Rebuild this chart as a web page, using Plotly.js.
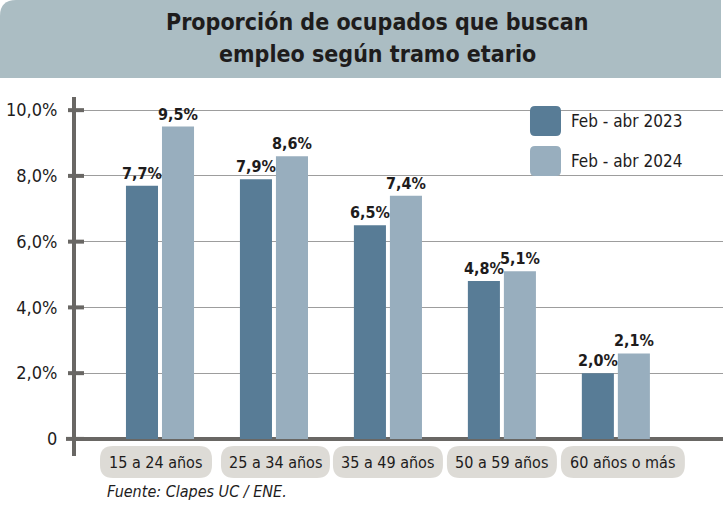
<!DOCTYPE html>
<html>
<head>
<meta charset="utf-8">
<script src="https://cdn.plot.ly/plotly-3.0.1.min.js"></script>
<style>
  html, body { margin: 0; padding: 0; background: #ffffff; }
  #chart { width: 723px; height: 505px; }
</style>
</head>
<body>
<div id="chart"></div>
<script>
// ---- data ----
const categories = ["15 a 24 años", "25 a 34 años", "35 a 49 años", "50 a 59 años", "60 años o más"];
const seriesNames = ["Feb - abr 2023", "Feb - abr 2024"];
const values2023 = [7.7, 7.9, 6.5, 4.8, 2.0];
const values2024 = [9.5, 8.6, 7.4, 5.1, 2.6];
const labels2023 = ["7,7%", "7,9%", "6,5%", "4,8%", "2,0%"];
const labels2024 = ["9,5%", "8,6%", "7,4%", "5,1%", "2,1%"];
const yTickVals = [0, 2, 4, 6, 8, 10];
const yTickText = ["0", "2,0%", "4,0%", "6,0%", "8,0%", "10,0%"];
const titleLines = ["Proporción de ocupados que buscan", "empleo según tramo etario"];
const sourceText = "Fuente: Clapes UC / ENE.";

// ---- style / layout constants ----
const W = 723, H = 505;
const M = { l: 76, r: 0, t: 97, b: 49 };
const PW = W - M.l - M.r, PH = H - M.t - M.b;
const XR = [-0.737, 4.94];
const YR = [-0.52, 10.4];
const C_DARK = "#587c96", C_LIGHT = "#98aebe";
const C_AXIS = "#696764", C_GRID = "#9d9d9d";
const C_BAND = "#abbdc3", C_PILL = "#dddbd6", C_TEXT = "#1e1c1c";
const FONT = "'DejaVu Sans Condensed', 'Open Sans', sans-serif";
const pillWidths = [112, 109, 110, 110, 124];
const pillShift = [-4, 1.5, 0, 0, 7];

// pixel helpers (paper coordinates)
const px = x => (x - M.l) / PW;
const py = y => (M.t + PH - y) / PH;
const idxToPx = i => M.l + (i - XR[0]) / (XR[1] - XR[0]) * PW;
const valToPy = v => M.t + PH - (v - YR[0]) / (YR[1] - YR[0]) * PH;

function roundRect(x0, y0, x1, y1, r, corners) {
  const c = corners || [true, true, true, true];
  const rt = c[0] ? r : 0, rr = c[1] ? r : 0, rb = c[2] ? r : 0, rl = c[3] ? r : 0;
  const P = (x, y) => px(x).toFixed(5) + "," + py(y).toFixed(5);
  return "M" + P(x0 + rt, y0) +
    " L" + P(x1 - rr, y0) + " Q" + P(x1, y0) + " " + P(x1, y0 + rr) +
    " L" + P(x1, y1 - rb) + " Q" + P(x1, y1) + " " + P(x1 - rb, y1) +
    " L" + P(x0 + rl, y1) + " Q" + P(x0, y1) + " " + P(x0, y1 - rl) +
    " L" + P(x0, y0 + rt) + " Q" + P(x0, y0) + " " + P(x0 + rt, y0) + " Z";
}

const shapes = [];
const annotations = [];

// title band
shapes.push({ type: "path", xref: "paper", yref: "paper", layer: "below",
  path: roundRect(0, 0, 721, 78, 16, [true, false, false, false]),
  fillcolor: C_BAND, line: { width: 0 } });

// title lines
titleLines.forEach((t, i) => {
  annotations.push({ xref: "paper", yref: "paper", x: px(377), y: py(22 + i * 32),
    xanchor: "center", yanchor: "middle", showarrow: false, text: t,
    font: { family: FONT, size: 23, weight: "bold", color: C_TEXT } });
});

// y tick marks
yTickVals.forEach(v => {
  const yy = valToPy(v);
  shapes.push({ type: "line", xref: "paper", yref: "paper", layer: "above",
    x0: px(v === 0 ? 66 : 68), x1: px(84), y0: py(yy), y1: py(yy),
    line: { color: C_AXIS, width: 4 } });
});

// category pills and labels
categories.forEach((c, i) => {
  const cx = idxToPx(i) + pillShift[i];
  const w = pillWidths[i];
  shapes.push({ type: "path", xref: "paper", yref: "paper", layer: "below",
    path: roundRect(cx - w / 2, 446, cx + w / 2, 478, 13),
    fillcolor: C_PILL, line: { width: 0 } });
  annotations.push({ xref: "paper", yref: "paper", x: px(cx), y: py(462),
    xanchor: "center", yanchor: "middle", showarrow: false, text: c,
    font: { family: FONT, size: 16, color: C_TEXT } });
});

// legend (drawn)
[C_DARK, C_LIGHT].forEach((col, i) => {
  const y0 = 106 + i * 40;
  shapes.push({ type: "path", xref: "paper", yref: "paper", layer: "above",
    path: roundRect(530, y0, 561, y0 + 30, 5), fillcolor: col, line: { width: 0 } });
  annotations.push({ xref: "paper", yref: "paper", x: px(569), y: py(y0 + 15),
    xanchor: "left", yanchor: "middle", showarrow: false, text: seriesNames[i],
    font: { family: FONT, size: 17, color: C_TEXT } });
});

// source
annotations.push({ xref: "paper", yref: "paper", x: px(105), y: py(491),
  xanchor: "left", yanchor: "middle", showarrow: false, text: "<i>" + sourceText + "</i>",
  font: { family: FONT, size: 16, color: C_TEXT } });

const barText = { family: FONT, size: 16, weight: "bold", color: C_TEXT };
const traces = [
  { type: "bar", name: seriesNames[0], x: categories, y: values2023, text: labels2023,
    textposition: "outside", constraintext: "none", cliponaxis: false, textfont: barText,
    marker: { color: C_DARK, line: { width: 0 } }, hoverinfo: "skip", showlegend: false },
  { type: "bar", name: seriesNames[1], x: categories, y: values2024, text: labels2024,
    textposition: "outside", constraintext: "none", cliponaxis: false, textfont: barText,
    marker: { color: C_LIGHT, line: { width: 0 } }, hoverinfo: "skip", showlegend: false }
];

const layout = {
  width: W, height: H,
  margin: M,
  paper_bgcolor: "#ffffff", plot_bgcolor: "#ffffff",
  barmode: "group", bargap: 0.368, bargroupgap: 0.11,
  showlegend: false,
  uniformtext: { mode: false },
  font: { family: FONT, color: C_TEXT },
  xaxis: { type: "category", range: XR, showgrid: false, zeroline: false,
    showline: false, showticklabels: false, ticks: "", fixedrange: true },
  yaxis: { range: YR, tickvals: yTickVals, ticktext: yTickText,
    showgrid: true, gridcolor: C_GRID, gridwidth: 1,
    zeroline: true, zerolinecolor: C_AXIS, zerolinewidth: 4,
    showline: true, linecolor: C_AXIS, linewidth: 4,
    ticks: "outside", ticklen: 11, tickcolor: "rgba(0,0,0,0)",
    tickfont: { family: FONT, size: 18, color: C_TEXT }, fixedrange: true },
  shapes: shapes,
  annotations: annotations
};

Plotly.newPlot("chart", traces, layout, { staticPlot: true, displayModeBar: false });
</script>
</body>
</html>
